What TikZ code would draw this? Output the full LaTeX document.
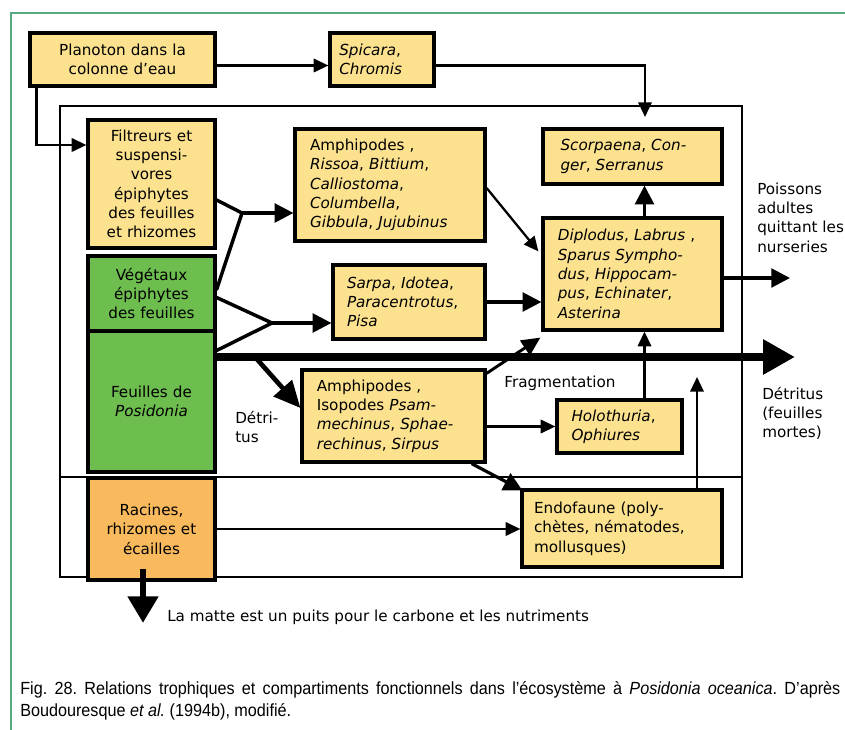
\documentclass[tikz,border=0pt]{standalone}
\usepackage{fontspec}
\setmainfont{DejaVu Sans}
\newfontfamily\capfont[FakeStretch=0.92]{Liberation Sans}
\usetikzlibrary{arrows.meta,calc}
\definecolor{ybox}{HTML}{FCE28E}
\definecolor{gbox}{HTML}{6DBD4F}
\definecolor{obox}{HTML}{F9BA5D}
\definecolor{gframe}{HTML}{55AA7E}
\frenchspacing
\begin{document}
\begin{tikzpicture}[x=0.75pt,y=-0.75pt,
  bx/.style={draw=black, line width=2.4pt, inner sep=0pt, font=\fontsize{11.4}{14.5}\selectfont},
  yel/.style={bx, fill=ybox, align=left},
  grn/.style={bx, fill=gbox, align=center},
  org/.style={bx, fill=obox, align=center},
  lbl/.style={font=\fontsize{11.4}{14.3}\selectfont, inner sep=0pt, align=left},
  capt/.style={anchor=west, inner sep=0pt, font=\capfont\fontsize{13.2}{15}\selectfont},
  arr/.style={line width=1.7pt, -{Triangle[length=11pt,width=10pt]}},
  tarr/.style={line width=2.4pt, -{Triangle[length=14pt,width=14pt]}},
  ln/.style={line width=2.6pt, line cap=round},
]
\useasboundingbox (0,0) rectangle (845,730);
% page frame
\draw[gframe, line width=1.1pt] (11,730) -- (11,13) -- (845,13);
% ecosystem frame
\draw[line width=1.6pt] (60,106) rectangle (742,577);
\draw[line width=1.2pt] (60,477) -- (742,477);

% nodes
\node[yel, align=center, minimum width=138.75pt, minimum height=39.75pt, text width=124pt] (plan) at (122.5,59.5) {Planoton dans la\\colonne d’eau};
\node[yel, minimum width=78pt, minimum height=39.75pt, text width=64pt] (spic) at (382,59.5) {\textit{Spicara},\\\textit{Chromis}};
\node[yel, align=center, minimum width=95.25pt, minimum height=96pt, text width=90pt] (filt) at (151.5,184) {Filtreurs et\\suspensi-\\vores\\épiphytes\\des feuilles\\et rhizomes};
\node[grn, minimum width=95.25pt, minimum height=56.25pt, text width=90pt] (veg) at (151.5,293.5) {Végétaux\\épiphytes\\des feuilles};
\node[grn, minimum width=95.25pt, minimum height=105.75pt, text width=90pt] (feu) at (151.5,401.5) {Feuilles de\\\textit{Posidonia}};
\node[org, minimum width=95.25pt, minimum height=76.5pt, text width=90pt] (rac) at (151.5,529) {Racines,\\rhizomes et\\écailles};
\node[yel, minimum width=142.5pt, minimum height=84pt, text width=120pt] (am1) at (390,185) {Amphipodes ,\\\textit{Rissoa}, \textit{Bittium},\\\textit{Calliostoma},\\\textit{Columbella},\\\textit{Gibbula}, \textit{Jujubinus}};
\node[yel, minimum width=114pt, minimum height=55.5pt, text width=93pt] (sar) at (409,302) {\textit{Sarpa}, \textit{Idotea},\\\textit{Paracentrotus},\\\textit{Pisa}};
\node[yel, minimum width=134.25pt, minimum height=41.25pt, text width=108pt] (sco) at (632.5,156.5) {\textit{Scorpaena}, \textit{Con-}\\\textit{ger}, \textit{Serranus}};
\node[yel, minimum width=134.25pt, minimum height=84pt, text width=112pt] (dip) at (632.5,274) {\textit{Diplodus}, \textit{Labrus} ,\\\textit{Sparus} \textit{Sympho-}\\\textit{dus}, \textit{Hippocam-}\\\textit{pus}, \textit{Echinater},\\\textit{Asterina}};
\node[yel, minimum width=137.25pt, minimum height=69pt, text width=115pt] (am2) at (393.5,416) {Amphipodes ,\\Isopodes \textit{Psam-}\\\textit{mechinus}, \textit{Sphae-}\\\textit{rechinus}, \textit{Sirpus}};
\node[yel, minimum width=93.75pt, minimum height=39.75pt, text width=72pt] (hol) at (619.5,426.5) {\textit{Holothuria},\\\textit{Ophiures}};
\node[yel, minimum width=150pt, minimum height=57.75pt, text width=132pt] (endo) at (622,528.5) {Endofaune (poly-\\chètes, nématodes,\\mollusques)};

% labels
\node[lbl, anchor=north west] (poiss) at (757,183) {Poissons\\adultes\\quittant les\\nurseries};
\node[lbl, anchor=west] (detr) at (762,413) {Détritus\\(feuilles\\mortes)};
\node[lbl] (frag) at (560,383) {Fragmentation};
\node[lbl, anchor=west] (detri) at (235,427) {Détri-\\tus};
\node[lbl, anchor=west] (matte) at (167,617) {La matte est un puits pour le carbone et les nutriments};
\node[capt] (cap1) at (20,690) {\makebox[615pt][s]{Fig. 28. Relations trophiques et compartiments fonctionnels dans l’écosystème à \textit{Posidonia oceanica}. D’après}};
\node[capt] (cap2) at (20,712) {Boudouresque \textit{et al.} (1994b), modifié.};

% coordinates
\coordinate (spictip) at (645,117);
\coordinate (j1) at (242,213);
\coordinate (j2) at (272,323);
\coordinate (poisstip) at (790,278);
\coordinate (detrtip) at (795,357);
\coordinate (dstart) at (255,357);
\coordinate (endotip) at (697,377);
\coordinate (mattetip) at (143,623);

% connectors
\draw[arr] ($(plan.east)+(0,6)$) -- ($(spic.west)+(0,6)$);
\draw[arr] ($(plan.south west)+(8,0)$) |- ($(filt.west)+(0,-39)$);
\draw[arr] ($(spic.east)+(0,6)$) -| (spictip);
\draw[ln] ($(filt.east)+(0,16)$) -- (j1);
\draw[ln] ($(veg.east)+(0,-4)$) -- (j1);
\draw[tarr] (j1) -- (am1.west |- j1);
\draw[ln] ($(veg.east)+(0,4)$) -- (j2);
\draw[ln] ($(feu.east)+(0,-51)$) -- (j2);
\draw[tarr] (j2) -- (sar.west |- j2);
\draw[arr] ($(am1.east)+(0,3)$) -- ($(dip.north west)+(-3,35)$);
\draw[tarr] (sar.east) -- (sar.east -| dip.west);
\draw[tarr] ($(dip.north)+(12,0)$) -- ($(sco.south)+(12,0)$);
\draw[tarr] ($(dip.east)+(0,4)$) -- (poisstip);
\draw[line width=6pt, -{Triangle[length=24pt,width=25pt]}] ($(feu.east)+(0,-44.5)$) -- (detrtip);
\draw[line width=3.5pt, -{Triangle[length=20pt,width=18pt]}] (dstart) -- ($(am2.west)+(0,-8)$);
\draw[line width=2.2pt, -{Triangle[length=14pt,width=13pt]}] ($(am2.north east)+(0,5)$) -- ($(dip.south west)+(-1,6)$);
\draw[arr] (am2.east |- hol.west) -- (hol.west);
\draw[arr] ($(hol.north)+(25,0)$) -- ($(dip.south)+(12,0)$);
\draw[tarr] ($(am2.south east)+(-15,0)$) -- ($(endo.north west)+(2,2)$);
\draw[arr] (rac.east) -- (rac.east -| endo.west);
\draw[arr] ($(endo.north)+(75,0)$) -- (endotip);
\draw[line width=5pt, -{Triangle[length=20pt,width=22pt]}] ($(rac.south)+(-8.5,-13)$) -- (mattetip);
\end{tikzpicture}
\end{document}
